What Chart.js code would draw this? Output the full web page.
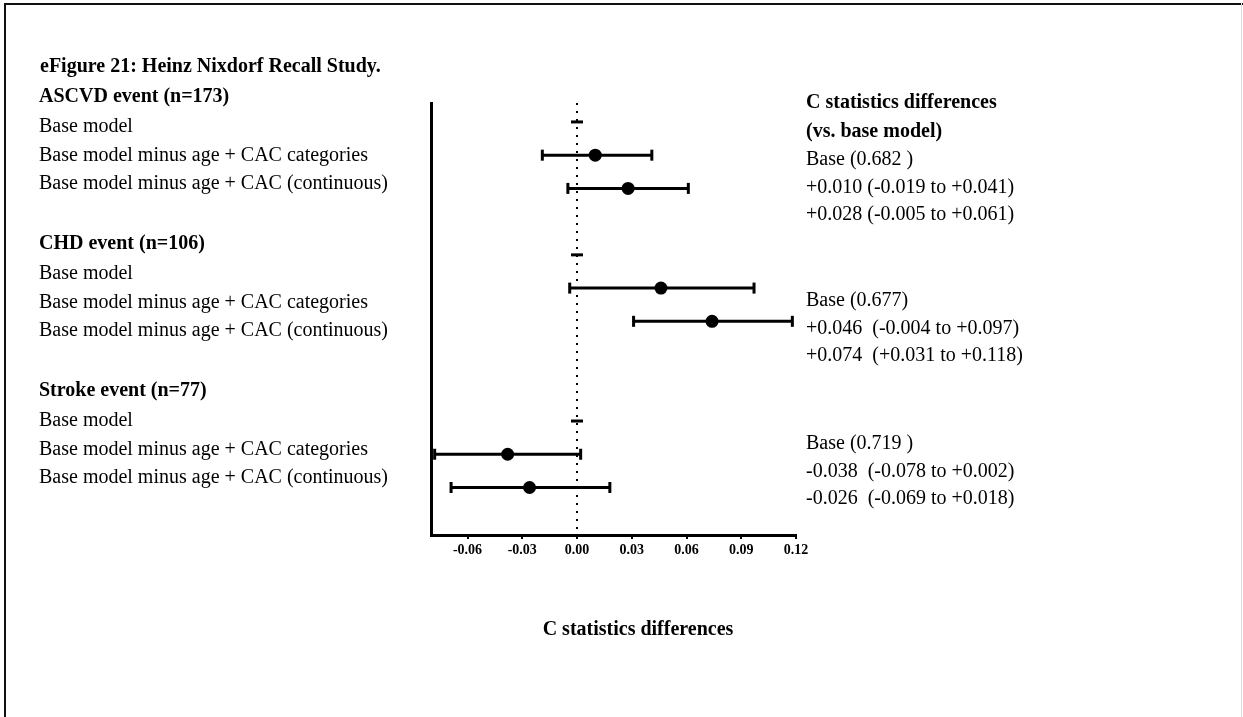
<!DOCTYPE html>
<html>
<head>
<meta charset="utf-8">
<title>eFigure 21</title>
<script src="https://cdn.jsdelivr.net/npm/chart.js@4/dist/chart.umd.min.js"></script>
<style>
  html, body { margin: 0; padding: 0; background: #fff; overflow: hidden; }
  #wrap { position: relative; width: 1243px; height: 717px; }
  #plot { position: absolute; left: 0; top: 0; }
  .frame { position: absolute; left: 4px; top: 3px; right: 0; bottom: -4px;
           border-top: 2px solid #111; border-left: 2px solid #111; }
  .edge { position: absolute; left: 1241px; top: 3px; width: 1px; height: 714px; background: #ddd; }
  .txt { position: absolute; font-family: "Liberation Serif", "Times New Roman", serif;
         font-size: 20px; line-height: 28px; color: #000; white-space: pre; }
  .b { font-weight: bold; }
  .mid { transform: translateX(-50%); }
</style>
</head>
<body>
<div id="wrap">
  <div class="frame"></div>
  <div class="edge"></div>
  <canvas id="plot" width="1243" height="717"></canvas>
</div>
<script>
// study data: C statistic of the base model and differences vs. base
var groups = ["ASCVD event (n=173)", "CHD event (n=106)", "Stroke event (n=77)"];
var models = ["Base model", "Base model minus age + CAC categories", "Base model minus age + CAC (continuous)"];
var baseC = [0.682, 0.677, 0.719];
var diffCat = [0.010, 0.046, -0.038];
var loCat = [-0.019, -0.004, -0.078];
var hiCat = [0.041, 0.097, 0.002];
var diffCont = [0.028, 0.074, -0.026];
var loCont = [-0.005, 0.031, -0.069];
var hiCont = [0.061, 0.118, 0.018];
var xTicks = [-0.06, -0.03, 0.00, 0.03, 0.06, 0.09, 0.12];

// row where each group starts on the y scale (blank rows between groups)
var groupRow = [0, 4, 9];
var Y_MIN = -0.57, Y_MAX = 12.43;

var wrap = document.getElementById("wrap");
function place(text, x, cy, cls) {
  var d = document.createElement("div");
  d.className = "txt" + (cls ? " " + cls : "");
  d.style.left = x + "px";
  d.style.top = (cy - 14) + "px";
  d.textContent = text;
  wrap.appendChild(d);
}

function sign(v) {
  return (v >= 0 ? "+" : "-") + Math.abs(v).toFixed(3);
}

// left labels
place("eFigure 21: Heinz Nixdorf Recall Study.", 40, 65, "b");
var headY = [95, 242, 389];
for (var g = 0; g < groups.length; g++) {
  place(groups[g], 39, headY[g], "b");
  place(models[0], 39, headY[g] + 30);
  place(models[1], 39, headY[g] + 58.5);
  place(models[2], 39, headY[g] + 87);
}

// right column: differences with 95% CI
place("C statistics differences", 806, 101, "b");
place("(vs. base model)", 806, 130, "b");
var statY = [158, 299, 441.5];
var gap = [" ", "  ", "  "];
var baseTail = [" )", ")", " )"];
for (var g = 0; g < groups.length; g++) {
  place("Base (" + baseC[g].toFixed(3) + baseTail[g], 806, statY[g]);
  place(sign(diffCat[g]) + gap[g] + "(" + sign(loCat[g]) + " to " + sign(hiCat[g]) + ")", 806, statY[g] + 28);
  place(sign(diffCont[g]) + gap[g] + "(" + sign(loCont[g]) + " to " + sign(hiCont[g]) + ")", 806, statY[g] + 55);
}

// x axis title below the plot
place("C statistics differences", 638, 628, "b mid");

// build datasets
var datasets = [];
datasets.push({
  data: [{x: 0, y: Y_MIN}, {x: 0, y: Y_MAX}],
  showLine: true,
  borderColor: "#000",
  borderWidth: 2,
  borderDash: [2, 6],
  pointRadius: 0,
  order: 3
});

var est = [];
var base = [];
for (var g = 0; g < groups.length; g++) {
  var r = groupRow[g];
  base.push({x: 0, y: r});
  var rows = [
    [r + 1, diffCat[g], loCat[g], hiCat[g]],
    [r + 2, diffCont[g], loCont[g], hiCont[g]]
  ];
  rows.forEach(function(row) {
    est.push({x: row[1], y: row[0]});
    datasets.push({
      data: [{x: row[2], y: row[0]}, {x: row[3], y: row[0]}],
      showLine: true,
      borderColor: "#000",
      borderWidth: 3,
      pointStyle: "line",
      pointRotation: 90,
      pointRadius: 5.5,
      pointBorderWidth: 3,
      pointBorderColor: "#000",
      order: 2
    });
  });
}

datasets.push({
  data: base,
  pointStyle: "line",
  pointRadius: 6,
  pointBorderWidth: 3,
  pointBorderColor: "#000",
  order: 1
});
datasets.push({
  data: est,
  pointRadius: 6.5,
  pointBorderWidth: 0,
  pointBackgroundColor: "#000",
  order: 0
});

new Chart(document.getElementById("plot"), {
  type: "scatter",
  data: { datasets: datasets },
  options: {
    responsive: false,
    animation: false,
    devicePixelRatio: 1,
    layout: { padding: { left: 431, right: 447, top: 103, bottom: 152 } },
    plugins: { legend: { display: false }, tooltip: { enabled: false } },
    scales: {
      x: {
        type: "linear",
        min: -0.08,
        max: 0.12,
        afterBuildTicks: function(scale) {
          scale.ticks = xTicks.map(function(v) { return {value: v}; });
        },
        afterFit: function(scale) { scale.height = 30; },
        ticks: {
          color: "#000",
          padding: 3,
          maxRotation: 0,
          font: { family: "'Liberation Serif', 'Times New Roman', serif", size: 14, weight: "bold" },
          callback: function(v) { return Number(v).toFixed(2); }
        },
        grid: { drawOnChartArea: false, drawTicks: true, tickLength: 4, color: "#000", lineWidth: 2 },
        border: { display: true, color: "#000", width: 3 }
      },
      y: {
        type: "linear",
        reverse: true,
        min: Y_MIN,
        max: Y_MAX,
        afterFit: function(scale) { scale.width = 0; },
        ticks: { display: false },
        grid: { display: false },
        border: { display: true, color: "#000", width: 3 }
      }
    }
  }
});
</script>
</body>
</html>
